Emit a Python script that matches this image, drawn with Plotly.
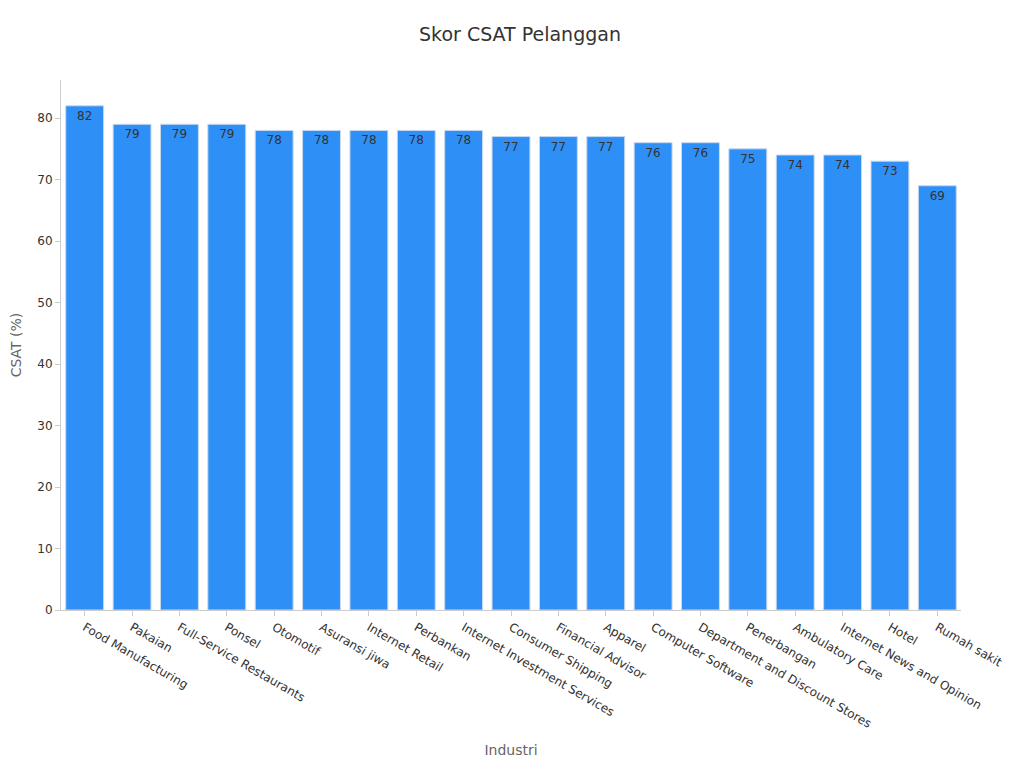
import plotly.graph_objects as go

industri = ["Food Manufacturing", "Pakaian", "Full-Service Restaurants", "Ponsel", "Otomotif",
            "Asuransi jiwa", "Internet Retail", "Perbankan", "Internet Investment Services",
            "Consumer Shipping", "Financial Advisor", "Apparel", "Computer Software",
            "Department and Discount Stores", "Penerbangan", "Ambulatory Care",
            "Internet News and Opinion", "Hotel", "Rumah sakit"]
csat = [82, 79, 79, 79, 78, 78, 78, 78, 78, 77, 77, 77, 76, 76, 75, 74, 74, 73, 69]

fig = go.Figure(go.Bar(
    x=industri, y=csat, text=csat, textposition="inside", insidetextanchor="end",
    textfont=dict(color="#333333", size=12),
    marker=dict(color="#2E8FF7", line=dict(color="#c8d8f0", width=1)),
))
fig.update_layout(
    width=1024, height=768,
    font=dict(family="DejaVu Sans", color="#333333"),
    title=dict(text="Skor CSAT Pelanggan", x=0.5, y=0.975, yanchor="top", font=dict(size=19)),
    plot_bgcolor="white", paper_bgcolor="white",
    margin=dict(l=53, r=71, t=72, b=166, autoexpand=False),
    bargap=0.2, showlegend=False,
)
fig.update_xaxes(title=dict(text="Industri", font=dict(color="#666666", size=14)),
                 tickangle=30, showline=True, linecolor="#cccccc",
                 ticks="outside", tickcolor="#cccccc", tickfont=dict(size=12))
fig.update_yaxes(title=dict(text="CSAT (%)", font=dict(color="#666666", size=14)),
                 range=[0, 86.2], dtick=10, showgrid=False, showline=True, linecolor="#cccccc",
                 ticks="outside", tickcolor="#cccccc", tickfont=dict(size=12), zeroline=False)
fig.write_html("out.html")
